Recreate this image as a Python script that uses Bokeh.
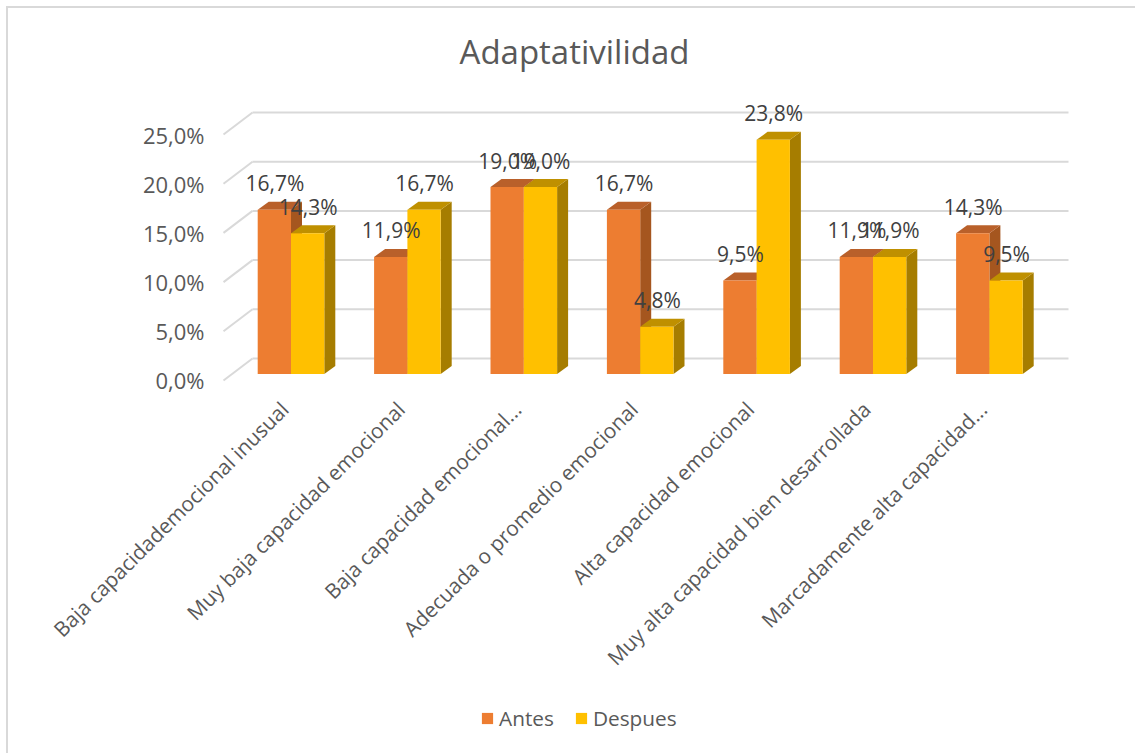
from bokeh.plotting import figure
from bokeh.embed import file_html
from bokeh.layouts import column
from bokeh.resources import INLINE
from bokeh.models import (Range1d, LinearAxis, FixedTicker, Legend, LegendItem)
from bokeh.core.properties import value

chart_title = "Adaptativilidad"
categories = ["Baja capacidademocional inusual", "Muy baja capacidad emocional",
              "Baja capacidad emocional...", "Adecuada o promedio emocional",
              "Alta capacidad emocional", "Muy alta capacidad bien desarrollada",
              "Marcadamente alta capacidad..."]
antes = [16.7, 11.9, 19.0, 16.7, 9.5, 11.9, 14.3]
despues = [14.3, 16.7, 19.0, 4.8, 23.8, 11.9, 9.5]
grid_ticks = [0, 5, 10, 15, 20, 25]
tick_labels = {0: "0,0%", 5: "5,0%", 10: "10,0%", 15: "15,0%", 20: "20,0%", 25: "25,0%"}
series_names = ["Antes", "Despues"]

FONT = "Open Sans"
GREY = "#595959"
DARK = "#404040"
GRID = "#D9D9D9"
ORANGE = "#ED7D31"
YELLOW = "#FFC000"

# frame placement, in page pixels
OFF_X, OFF_Y = 8, 8
BORDER = 2
SPLIT_Y = 695        # chart above, legend strip below
F_L, F_R, F_T, F_B = 211, 1137, 95, 395
CAT_STEP = 116.4     # px per category
PCT = 9.84           # px per percentage point
X0, Y0 = 290.5, 373.5  # page position of first category, zero line
dx = 1 / CAT_STEP    # one pixel in x units
dy = 1 / PCT         # one pixel in y units

BAR_W = 33.3 * dx
DEPTH_X, DEPTH_Y = 11 * dx, 8 * dy

# header strip carrying the title, its ranges count page pixels
header = figure(width=1137 - OFF_X, height=F_T - OFF_Y + BORDER, output_backend="svg", toolbar_location=None,
                x_axis_location=None, y_axis_location=None, min_border=0,
                x_range=Range1d(F_L, F_R), y_range=Range1d(F_T, OFF_Y), margin=(6, 0, 0, 6),
                styles={"border-top": f"{BORDER}px solid {GRID}", "border-left": f"{BORDER}px solid {GRID}"})
header.outline_line_color = None
header.grid.visible = False
header.text([574], [50], text=[chart_title], text_align="center", text_baseline="middle",
            text_color=GREY, text_font=value(FONT), text_font_size="33px")

p = figure(width=1137 - OFF_X, height=SPLIT_Y - F_T, output_backend="svg", toolbar_location=None,
           x_range=Range1d((F_L - X0) * dx, (F_R - X0) * dx),
           y_range=Range1d(-(F_B - Y0) * dy, (Y0 - F_T) * dy),
           min_border_left=F_L - OFF_X, min_border_right=0,
           min_border_top=0, min_border_bottom=SPLIT_Y - F_B,
           margin=(0, 0, 0, 6),
           styles={"border-left": f"{BORDER}px solid {GRID}"})
p.outline_line_color = None
p.xgrid.visible = False
p.ygrid.visible = False
p.yaxis.visible = False

# category axis, labels end a little left of each category centre
label_shift = -6.5 * dx
tick_pos = [i + label_shift for i in range(len(categories))]
xa = p.xaxis[0]
xa.ticker = FixedTicker(ticks=tick_pos)
xa.major_label_overrides = {t: c for t, c in zip(tick_pos, categories)}
xa.major_label_orientation = 0.7854
xa.major_label_text_font = FONT
xa.major_label_text_font_size = "20.8px"
xa.major_label_text_color = GREY
xa.axis_line_color = None
xa.major_tick_line_color = None
xa.minor_tick_line_color = None
xa.major_label_standoff = 4

# value axis, sits slightly below the bar baseline as on the floor's front edge
p.extra_y_ranges = {"ticks": Range1d(-(F_B - 379) / 9.8, (379 - F_T) / 9.8)}
ya = LinearAxis(y_range_name="ticks", ticker=FixedTicker(ticks=grid_ticks),
                major_label_overrides=tick_labels)
ya.major_label_text_font = FONT
ya.major_label_text_font_size = "22px"
ya.major_label_text_color = GREY
ya.axis_line_color = None
ya.major_tick_line_color = None
ya.minor_tick_line_color = None
ya.major_label_standoff = 1
p.add_layout(ya, "left")

# back wall gridlines and the slanted side wall
wall_x0 = (252 - X0) * dx
wall_x1 = (1068 - X0) * dx
side_x0 = (223 - X0) * dx
wall_dy = 15.5 * dy
side_dy = 6.5 * dy
p.segment([wall_x0] * 6, [g + wall_dy for g in grid_ticks], [wall_x1] * 6, [g + wall_dy for g in grid_ticks],
          line_color=GRID, line_width=2)
p.segment([side_x0] * 6, [g - side_dy for g in grid_ticks], [wall_x0] * 6, [g + wall_dy for g in grid_ticks],
          line_color=GRID, line_width=2)


def draw_series(vals, shift, front, top, side):
    n = range(len(vals))
    lx = [i + shift for i in n]
    rx = [i + shift + BAR_W for i in n]
    p.patches([[rx[i], rx[i] + DEPTH_X, rx[i] + DEPTH_X, rx[i]] for i in n],
              [[0, DEPTH_Y, vals[i] + DEPTH_Y, vals[i]] for i in n], fill_color=side, line_color=None)
    p.patches([[lx[i], lx[i] + DEPTH_X, rx[i] + DEPTH_X, rx[i]] for i in n],
              [[vals[i], vals[i] + DEPTH_Y, vals[i] + DEPTH_Y, vals[i]] for i in n], fill_color=top, line_color=None)
    p.patches([[lx[i], rx[i], rx[i], lx[i]] for i in n],
              [[0, 0, vals[i], vals[i]] for i in n], fill_color=front, line_color=None)


draw_series(antes, -BAR_W, ORANGE, "#B9602A", "#A5561F")
draw_series(despues, 0, YELLOW, "#BF9000", "#A67D00")

# value labels
for vals, shift in ((antes, -BAR_W / 2), (despues, BAR_W / 2)):
    p.text([i + shift + 0.5 * dx for i in range(len(vals))], [v + 26.5 * dy for v in vals],
           text=[f"{v:.1f}%".replace(".", ",") for v in vals],
           text_align="center", text_baseline="middle", text_color=DARK,
           text_font=value(FONT), text_font_size="21px")

# legend strip beneath the chart; the swatch renderers lie outside its range
strip = figure(width=1137 - OFF_X, height=753 - SPLIT_Y, output_backend="svg", toolbar_location=None,
               x_axis_location=None, y_axis_location=None, min_border=0,
               x_range=Range1d(0, 1), y_range=Range1d(0, 1), margin=(0, 0, 0, 6),
               styles={"border-left": f"{BORDER}px solid {GRID}"})
strip.outline_line_color = None
strip.grid.visible = False
swatch_a = strip.patches(xs=[[-3, -2, -2]], ys=[[0, 0, 1]], fill_color=ORANGE, line_color=None)
swatch_d = strip.patches(xs=[[-3, -2, -2]], ys=[[0, 0, 1]], fill_color=YELLOW, line_color=None)
legend = Legend(items=[LegendItem(label=series_names[0], renderers=[swatch_a]),
                       LegendItem(label=series_names[1], renderers=[swatch_d])],
                orientation="horizontal", location=(480 - F_L, 21),
                background_fill_alpha=0, border_line_color=None,
                glyph_width=14, glyph_height=14, label_standoff=5, spacing=20,
                padding=0, margin=0,
                label_text_font=FONT, label_text_font_size="20.8px", label_text_color=GREY)
strip.add_layout(legend, "center")

open("out.html", "w").write(file_html(column(header, p, strip, spacing=0), INLINE))
